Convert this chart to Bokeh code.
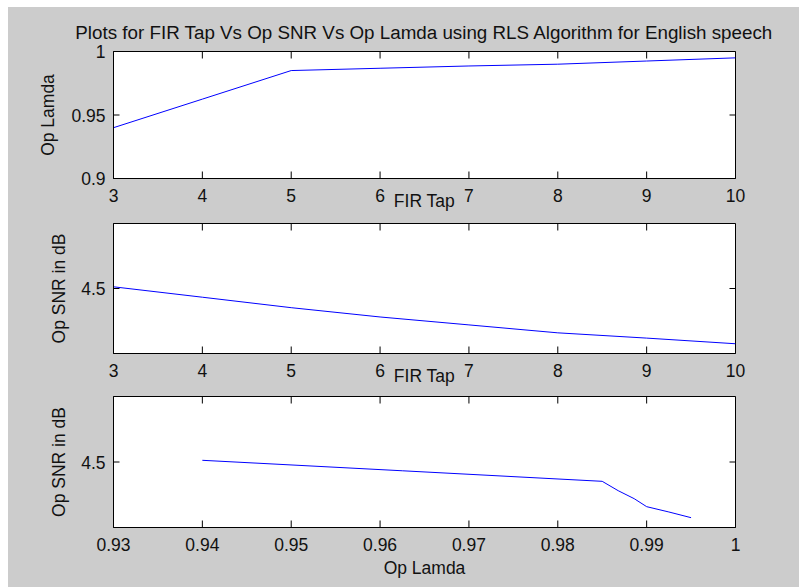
import math
from bokeh.plotting import figure
from bokeh.layouts import column
from bokeh.models import FixedTicker, Range1d
from bokeh.embed import file_html
from bokeh.resources import INLINE

# ---- data ----
fir_tap = [3, 4, 5, 6, 7, 8, 9, 10]
op_lamda = [0.94, 0.9625, 0.985, 0.9868, 0.9886, 0.99, 0.9925, 0.995]
op_snr_db = [4.5026, 4.4866, 4.4705, 4.4562, 4.4440, 4.4318, 4.4237, 4.4150]

tap_ticks = [3, 4, 5, 6, 7, 8, 9, 10]
tap_tick_labels = ["3", "4", "5", "6", "7", "8", "9", "10"]
lamda_y_ticks = [0.9, 0.95, 1.0]
lamda_y_labels = ["0.9", "0.95", "1"]
snr_ticks = [4.5]
snr_tick_labels = ["4.5"]
lamda_x_ticks = [0.93, 0.94, 0.95, 0.96, 0.97, 0.98, 0.99, 1.0]
lamda_x_labels = ["0.93", "0.94", "0.95", "0.96", "0.97", "0.98", "0.99", "1"]

TITLE = "Plots for FIR Tap Vs Op SNR Vs Op Lamda using RLS Algorithm for English speech"

GRAY = "#cccccc"
FONT = "Liberation Sans"
FS = "17.5px"
TITLE_FS = "18.8px"
TXT = "#111111"
W = 791


def key(v):
    return f"{v:g}"


def style_axis(ax, ticks, labels, standoff):
    ax.ticker = FixedTicker(ticks=ticks)
    ax.major_label_overrides = {key(t): l for t, l in zip(ticks, labels)}
    ax.major_tick_line_color = None
    ax.minor_tick_line_color = None
    ax.major_tick_in = 0
    ax.major_tick_out = 0
    ax.axis_line_color = "black"
    ax.major_label_text_font = FONT
    ax.major_label_text_font_size = FS
    ax.major_label_text_color = TXT
    ax.major_label_standoff = standoff
    ax.axis_label_text_font = FONT
    ax.axis_label_text_font_size = FS
    ax.axis_label_text_font_style = "normal"
    ax.axis_label_text_color = TXT


def make_fig(height, top, bottom, xr, yr, xt, xl, yt, yl, xlabel, ylabel,
             xlabel_standoff, ylabel_standoff, title=None, title_standoff=12):
    p = figure(width=W, height=height, x_range=Range1d(*xr), y_range=Range1d(*yr),
               output_backend="svg", toolbar_location=None,
               min_border_left=105, min_border_right=64,
               min_border_top=top, min_border_bottom=bottom,
               background_fill_color="white", border_fill_color=GRAY,
               outline_line_color="black")
    p.xgrid.visible = False
    p.ygrid.visible = False
    bx = p.xaxis[0]
    ly = p.yaxis[0]
    style_axis(bx, xt, xl, 10)
    style_axis(ly, yt, yl, 8)
    bx.axis_label = xlabel
    bx.axis_label_standoff = xlabel_standoff
    ly.axis_label = ylabel
    ly.axis_label_standoff = ylabel_standoff
    # inward tick marks on all four sides (half of each dash is clipped by the frame)
    p.scatter(xt, [yr[0]] * len(xt), marker="dash", angle=math.pi / 2, size=14,
              line_color="black", line_width=1)
    p.scatter(xt, [yr[1]] * len(xt), marker="dash", angle=math.pi / 2, size=14,
              line_color="black", line_width=1)
    p.scatter([xr[0]] * len(yt), yt, marker="dash", size=12,
              line_color="black", line_width=1)
    p.scatter([xr[1]] * len(yt), yt, marker="dash", size=12,
              line_color="black", line_width=1)
    if title:
        p.title.text = title
        p.title.align = "center"
        p.title.text_font = FONT
        p.title.text_font_size = TITLE_FS
        p.title.text_font_style = "normal"
        p.title.text_color = TXT
        p.title.standoff = title_standoff
    return p


p1 = make_fig(206, 44, 33, (3, 10), (0.9, 1.0), tap_ticks, tap_tick_labels,
              lamda_y_ticks, lamda_y_labels, "FIR Tap", "Op Lamda", -14, 10,
              title=TITLE, title_standoff=18)
p1.line(fir_tap, op_lamda, line_color="#0000ff", line_width=1)

p2 = make_fig(175, 10, 34, (3, 10), (4.4, 4.6), tap_ticks, tap_tick_labels,
              snr_ticks, snr_tick_labels, "FIR Tap", "Op SNR in dB", -14, 9)
p2.line(fir_tap, op_snr_db, line_color="#0000ff", line_width=1)

p3 = make_fig(199, 8, 60, (0.93, 1.0), (4.4, 4.6), lamda_x_ticks, lamda_x_labels,
              snr_ticks, snr_tick_labels, "Op Lamda", "Op SNR in dB", 4, 9)
p3.line(op_lamda, op_snr_db, line_color="#0000ff", line_width=1)

layout = column(p1, p2, p3, spacing=0, margin=(7, 0, 0, 8),
                styles={"background-color": GRAY})

open("out.html", "w").write(file_html(layout, INLINE))
